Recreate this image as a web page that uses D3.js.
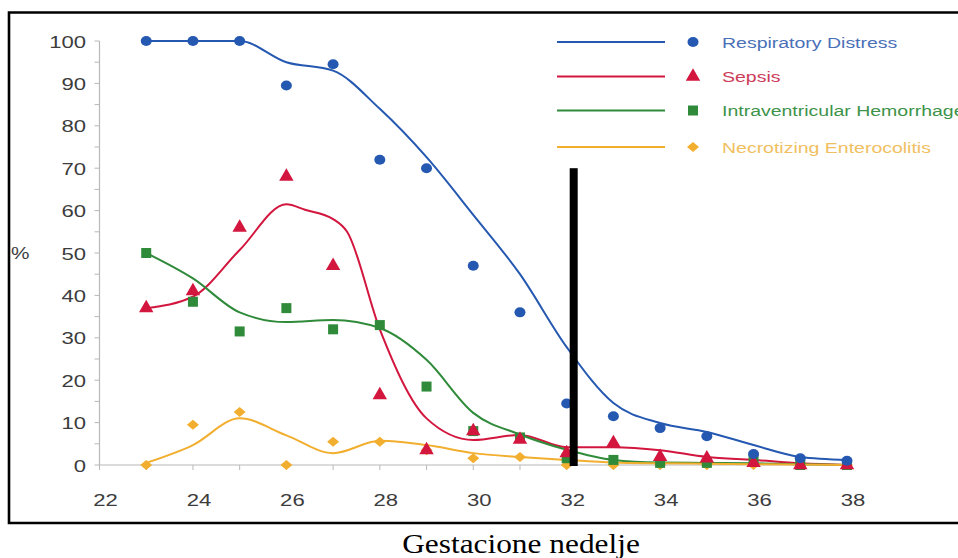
<!DOCTYPE html>
<html><head><meta charset="utf-8">
<script src="https://cdn.jsdelivr.net/npm/d3@7"></script>
<style>body{margin:0;background:#fff}svg{display:block}</style>
</head><body>
<script>
// ---- data ----
const weeks = [23,24,25,26,27,28,29,30,31,32,33,34,35,36,37,38];
const rdPoints   = [100,100,100,89.5,94.5,72,70,47,36,14.5,11.5,8.7,6.8,2.6,1.6,1];
const sepPoints  = [37,41,56,68,47,16.5,3.5,8,6,2.8,5.2,1.9,1.6,0.5,0,0];
const ivhPoints  = [50,38.5,31.5,37,32,33,18.5,8,6.5,1.6,1.2,0.5,0.5,1.2,0,0];
const necPoints  = [0,9.5,12.5,0,5.5,5.5,3.5,1.6,1.9,0,0,0,0,0,0,0];

const rdLineWeeks  = [23,24,25,26,27,28,29,30,31,32,33,34,35,36,37,38];
const rdLine       = [100,100,100,95,93,84,72.6,59,45,27.8,14.6,9.9,7.8,4.7,1.9,1.2];
const sepLineWeeks = [23,24,25,26,26.4,27,27.3,28,29,30,31,32,33,34,35,36,37,38];
const sepLine      = [37,39.7,50.7,61.5,60.2,58,55,32,11,5.9,7.1,4.2,4.2,3.5,1.9,1.2,0.4,0];
const ivhLineWeeks = [23,24,25,26,27,28,29,30,31,32,33,34,35,36,37,38];
const ivhLine      = [50,44,36,33.7,34.2,32.3,24.8,12.3,7.2,3.6,1.2,0.6,0.5,0.4,0.2,0];
const necLineWeeks = [23,24,25,26,27,28,29,30,31,32,33,34,35,36,37,38];
const necLine      = [0.5,4.7,11,7,2.8,5.7,4.7,2.8,1.9,1.2,0.6,0.4,0.3,0.2,0.1,0];

const seriesNames  = ["Respiratory Distress","Sepsis","Intraventricular Hemorrhage","Necrotizing Enterocolitis"];
const seriesColors = ["#2558b0","#d2163e","#2f8a3a","#f2ae2e"];
const textColors   = ["#4a70b8","#cc3d5a","#3d934a","#f0c060"];
const xTicks = [22,24,26,28,30,32,34,36,38];
const yTicks = [0,10,20,30,40,50,60,70,80,90,100];
const cutoffWeek = 32.15, cutoffTop = 70;
const xTitle = "Gestacione nedelje", yTitle = "%";

// ---- drawing ----
const W = 958, H = 558;
const svg = d3.select("body").append("svg").attr("width", W).attr("height", H);
const x = d3.scaleLinear().domain([22,38]).range([99.5,847]);
const y = d3.scaleLinear().domain([0,100]).range([465,41]);
const SX = 1.3;

// outer frame
svg.append("path").attr("d","M958,12.5 H9 V523 H958").attr("fill","none").attr("stroke","#000").attr("stroke-width",2.6);

// axes
const axisCol = "#b8b8b8";
const gy = svg.append("g");
gy.append("line").attr("x1",x(22)).attr("x2",x(22)).attr("y1",y(100)).attr("y2",y(0)).attr("stroke",axisCol).attr("stroke-width",1.2);
gy.selectAll("line.t").data(d3.range(0,101,5)).join("line").attr("class","t")
  .attr("x1",x(22)-5).attr("x2",x(22)).attr("y1",d=>y(d)).attr("y2",d=>y(d)).attr("stroke",axisCol).attr("stroke-width",1);
gy.selectAll("text").data(yTicks).join("text")
  .attr("transform",d=>`translate(86,${y(d)+6.5}) scale(${SX},1)`)
  .attr("text-anchor","end").attr("font-family","Liberation Sans, Arial, sans-serif").attr("font-size",17)
  .attr("fill","#3c3c3c").text(d=>d);
const gx = svg.append("g");
gx.append("line").attr("x1",x(22)).attr("x2",x(38)).attr("y1",y(0)).attr("y2",y(0)).attr("stroke",axisCol).attr("stroke-width",1.2);
gx.selectAll("line.t").data(d3.range(22,39,1)).join("line").attr("class","t")
  .attr("x1",d=>x(d)).attr("x2",d=>x(d)).attr("y1",y(0)).attr("y2",y(0)+5).attr("stroke",axisCol).attr("stroke-width",1);
gx.selectAll("text").data(xTicks).join("text")
  .attr("transform",d=>`translate(${x(d)+6},${506}) scale(${SX},1)`)
  .attr("text-anchor","middle").attr("font-family","Liberation Sans, Arial, sans-serif").attr("font-size",17)
  .attr("fill","#3c3c3c").text(d=>d);

svg.append("text").attr("transform",`translate(11,259) scale(${SX},1)`)
  .attr("font-family","Liberation Sans, Arial, sans-serif").attr("font-size",16).attr("fill","#3c3c3c").text(yTitle);
svg.append("text").attr("transform","translate(521,553) scale(1.12,1)").attr("text-anchor","middle")
  .attr("font-family","Liberation Serif, Times New Roman, serif").attr("font-size",28).attr("fill","#000").text(xTitle);

// lines
const lineSets = [[rdLineWeeks,rdLine],[sepLineWeeks,sepLine],[ivhLineWeeks,ivhLine],[necLineWeeks,necLine]];
const lineGen = d3.line().x(d=>x(d[0])).y(d=>y(d[1])).curve(d3.curveMonotoneX);
lineSets.forEach((s,i)=>{
  svg.append("path").datum(s[0].map((w,k)=>[w,s[1][k]]))
    .attr("d",lineGen).attr("fill","none").attr("stroke",seriesColors[i]).attr("stroke-width",2);
});

// markers
const symTypes = [d3.symbolCircle,d3.symbolTriangle,d3.symbolSquare,d3.symbolDiamond];
const symSizes = [80,90,100,70];
function marker(g,i){
  if(i===0) return g.append("ellipse").attr("rx",5.5).attr("ry",5);
  if(i===3) return g.append("path").attr("d","M0,-5 L6,0 L0,5 L-6,0Z");
  return g.append("path").attr("d",d3.symbol().type(symTypes[i]).size(symSizes[i])());
}
const ptSets = [rdPoints,sepPoints,ivhPoints,necPoints];
[3,2,1,0].forEach(i=>{
  const g = svg.append("g");
  weeks.forEach((w,k)=>{
    const m = g.append("g").attr("transform",`translate(${x(w)},${y(ptSets[i][k])})`);
    marker(m,i).attr("fill",seriesColors[i]);
  });
});

// cutoff bar
svg.append("rect").attr("x",x(cutoffWeek)-4).attr("width",8).attr("y",y(cutoffTop)).attr("height",y(0)-y(cutoffTop)+1).attr("fill","#000");

// legend
const legY = [42,76.5,110.5,147];
seriesNames.forEach((n,i)=>{
  const g = svg.append("g").attr("transform",`translate(0,${legY[i]})`);
  g.append("line").attr("x1",557).attr("x2",665).attr("y1",0).attr("y2",0).attr("stroke",seriesColors[i]).attr("stroke-width",2.2);
  const m = g.append("g").attr("transform","translate(693,0)");
  marker(m,i).attr("fill",seriesColors[i]);
  g.append("text").attr("transform",`translate(722,5.5) scale(${SX},1)`)
    .attr("font-family","Liberation Sans, Arial, sans-serif").attr("font-size",15)
    .attr("fill",textColors[i]).text(n);
});
</script>
</body></html>
